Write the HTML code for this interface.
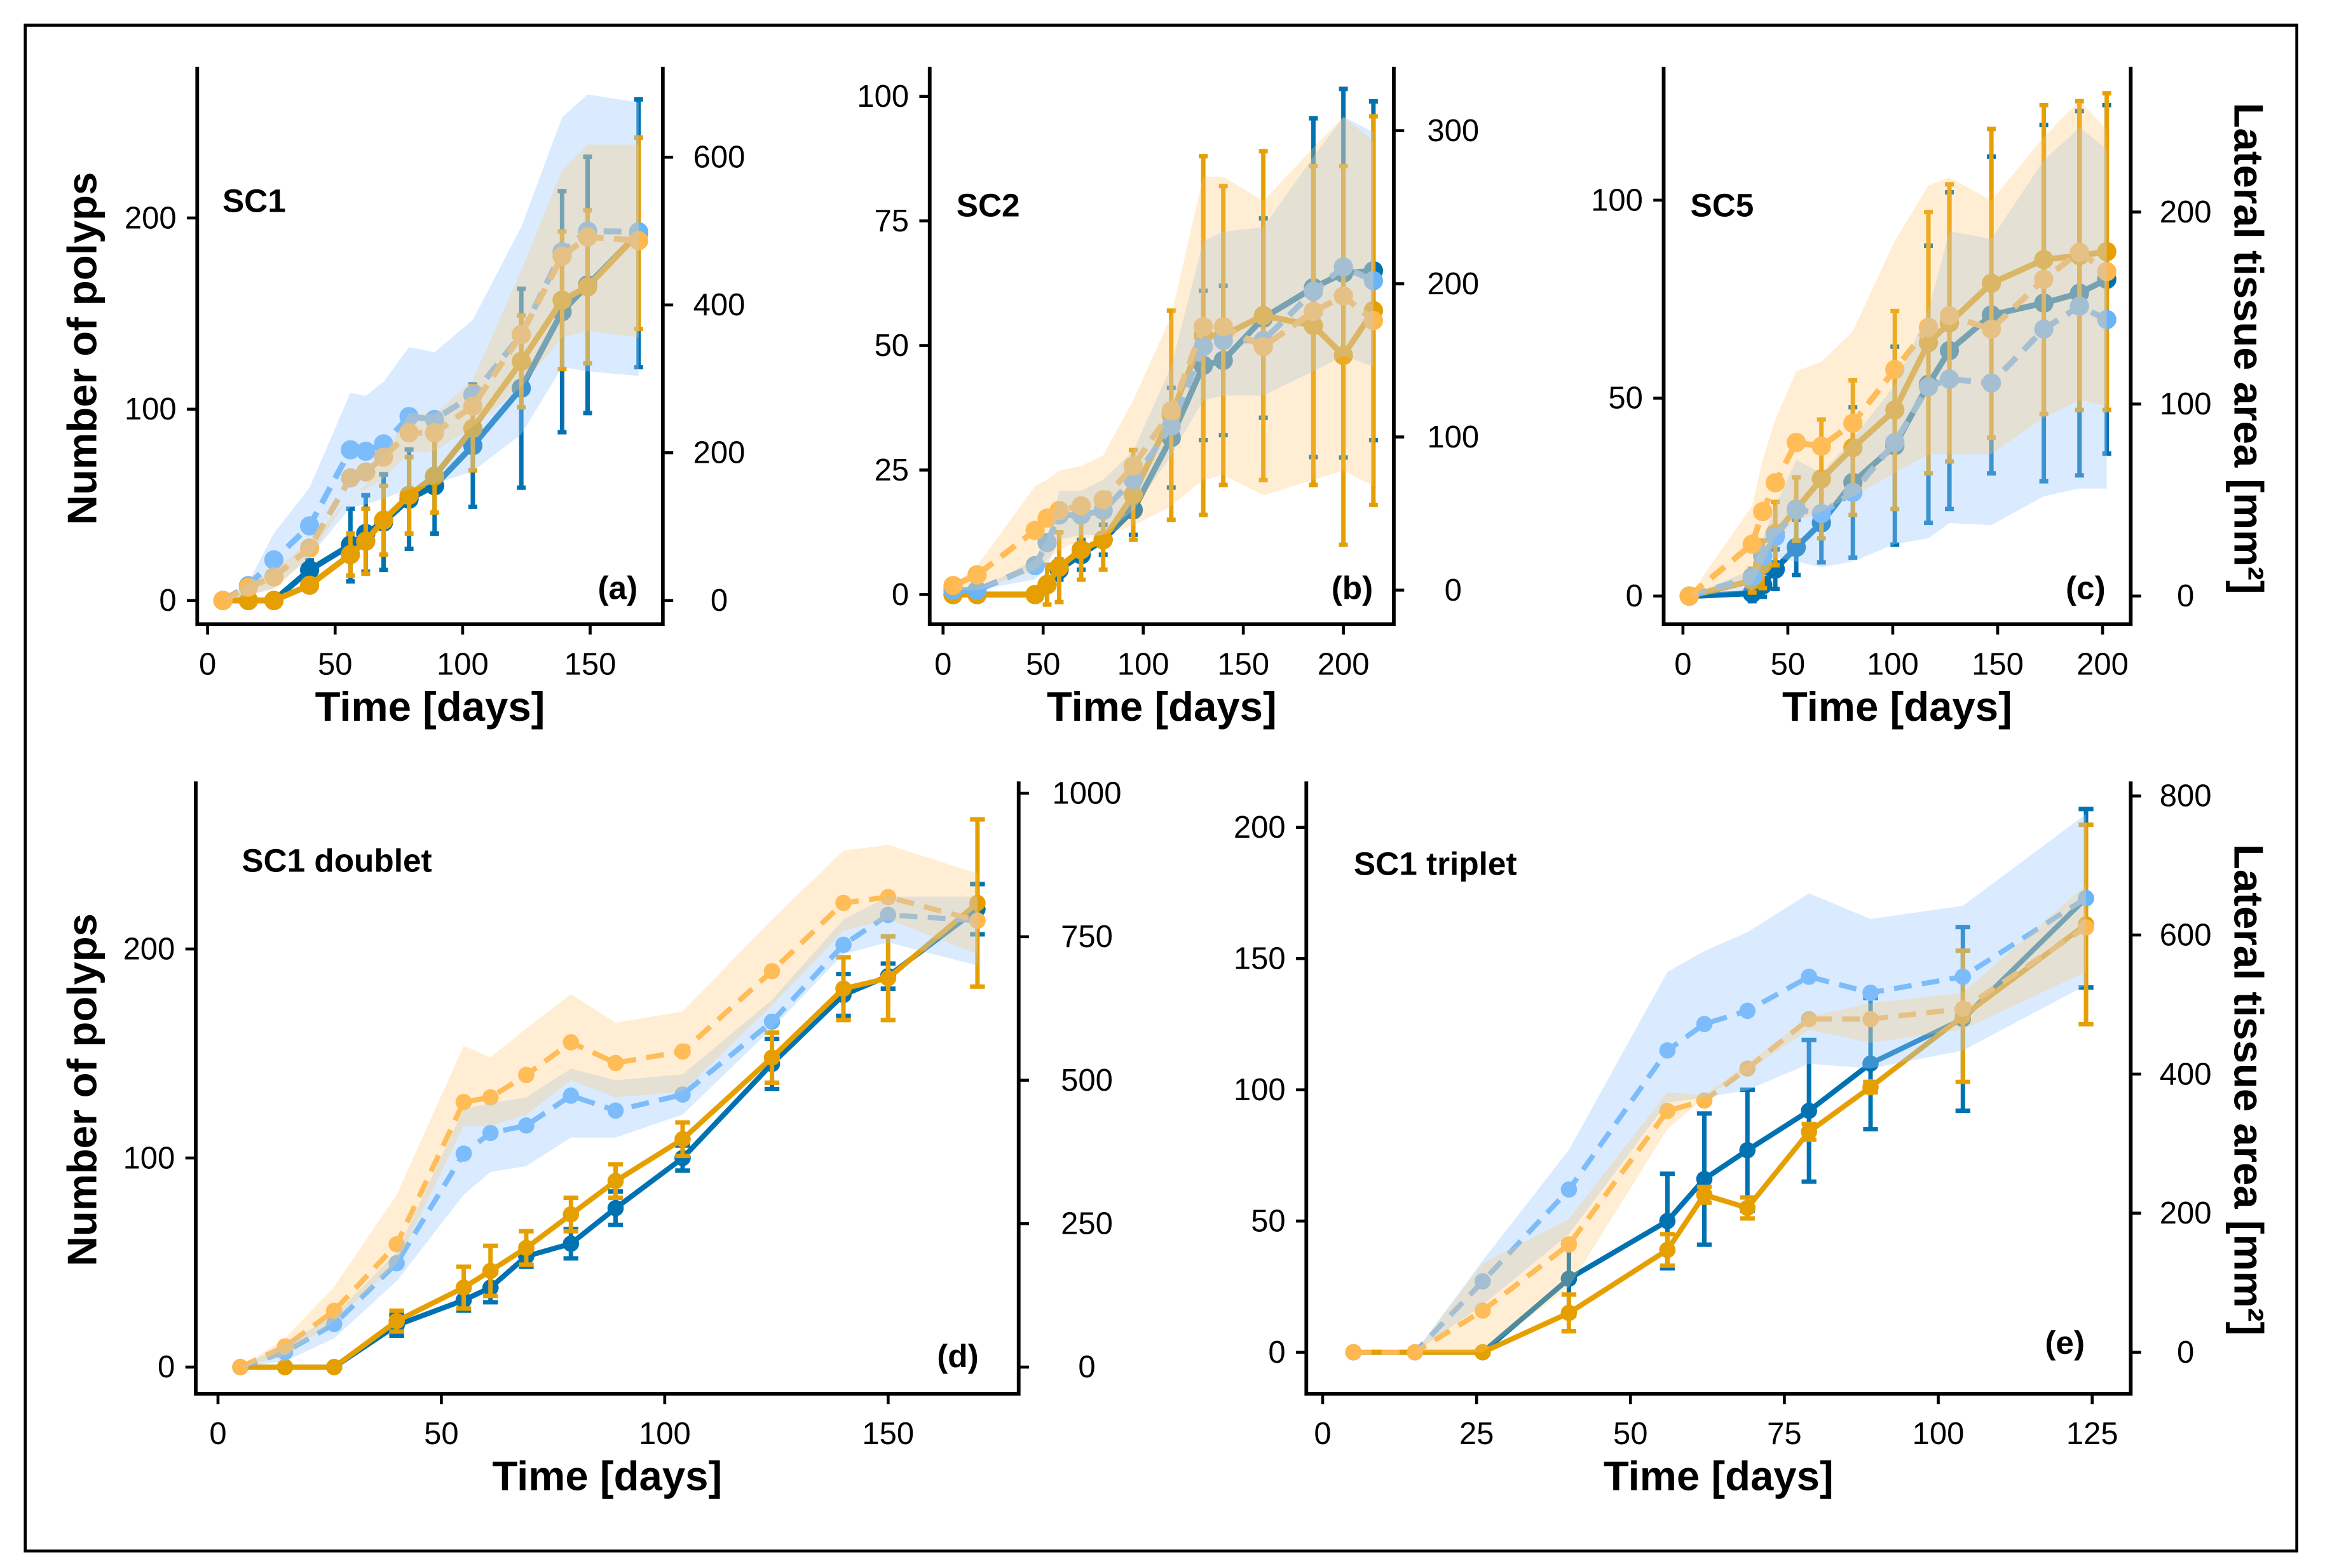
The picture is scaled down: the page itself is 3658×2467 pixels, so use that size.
<!DOCTYPE html>
<html><head><meta charset="utf-8"><style>
html,body{margin:0;padding:0;background:#fff}
svg{display:block}
text{font-family:"Liberation Sans",Arial,sans-serif}
</style></head><body>
<svg id="fig" xmlns="http://www.w3.org/2000/svg" width="3658" height="2467" viewBox="0 0 1568 1057.5">
<rect x="17" y="17" width="1532" height="1029" fill="none" stroke="#000" stroke-width="2"/>
<text transform="translate(65,235) rotate(-90)" text-anchor="middle" font-size="28" font-weight="bold">Number of polyps</text>
<text transform="translate(65,735) rotate(-90)" text-anchor="middle" font-size="28" font-weight="bold">Number of polyps</text>
<text transform="translate(1507,235) rotate(90)" text-anchor="middle" font-size="28" font-weight="bold">Lateral tissue area [mm²]</text>
<text transform="translate(1507,735) rotate(90)" text-anchor="middle" font-size="28" font-weight="bold">Lateral tissue area [mm²]</text>
</svg>
<script>
// ---- Panel (a) SC1 ----
const aDays=[6,16,26,40,56,62,69,79,89,104,123,139,149,169];
const aBlue=[0,0,0,16,29,35,41,53,60,81,111,151,165,192];
const aBlueErr=[0,0,0,5,19,20,25,26,25,32,52,63,67,70];
const aOrange=[0,0,0,8,24,31,42,55,65,90,125,157,164,192];
const aOrangeErr=[0,0,0,0,11,17,18,20,19,22,24,36,40,50];
const aBlueArea=[0,20,55,101,204,202,212,249,245,278,360,472,500,499];
const aOrangeArea=[0,18,32,71,166,174,194,227,227,263,360,466,492,487];
const aBlueHi=[0,25,91,153,281,277,296,343,336,380,506,654,685,674];
const aBlueLo=[0,7,17,59,126,130,138,151,158,175,225,316,310,304];
const aOrangeHi=[0,22,40,81,141,156,195,254,252,299,447,583,617,617];
const aOrangeLo=[0,7,15,59,143,151,165,200,202,235,289,356,365,356];
const aXTicks=[0,50,100,150], aYTicks=[0,100,200], aRTicks=[0,200,400,600];
// ---- Panel (b) SC2 ----
const bDays=[5,17,46,52,58,69,80,95,114,130,140,160,185,200,215];
const bBlue=[0,0,0,2,5,8,11,17,31.5,46,47,55.5,61.6,64.5,65];
const bBlueErr=[0,0,0,1,2,3,3,5,10,15,15,20,34,37,34];
const bOrange=[0,0,0,2,5.5,9,11,20,36,52,52,56,54,48,57];
const bOrangeErr=[0,0,0,4,7,6,6,9,21,36,30,33,32,38,39];
const bBlueArea=[0,0,16,31,49,49,52,72,107,159,163,163,195,211,202];
const bOrangeArea=[3,10,39,47,52,55,59,81,117,172,172,159,182,192,176];
const bBlueHi=[0,0,20,33,65,65,72,91,146,228,234,237,283,309,299];
const bBlueLo=[0,0,7,16,33,36,36,52,88,124,127,127,143,153,146];
const bOrangeHi=[3,16,68,72,78,81,88,124,179,270,270,254,289,309,293];
const bOrangeLo=[0,0,13,20,26,33,36,42,55,72,75,62,72,78,68];
const bXTicks=[0,50,100,150,200], bYTicks=[0,25,50,75,100], bRTicks=[0,100,200,300];
// ---- Panel (c) SC5 ----
const cDays=[3,33,38,44,54,66,81,101,117,127,147,172,189,202];
const cBlue=[0,0.7,2.8,6.8,12.3,18.5,28.7,38,53.5,62,71,74,76.5,80];
const cBlueErr=[0,2,3,5,7,10,19,25,35,40,40,45,46,44];
const cOrange=[0,3.9,8,15.8,22,29.6,37.5,47,64,69,79,85,86,87];
const cOrangeErr=[0,3,6,8,8,15,17,25,33,35,39,39,39,40];
const cBlueArea=[0,10,21,31,45,43,54,80,109,113,111,139,151,144];
const cOrangeArea=[0,27,44,59,80,78,90,118,140,146,139,165,179,169];
const cBlueHi=[0,14,30,47,71,64,82,110,149,190,186,227,244,233];
const cBlueLo=[0,3,8,20,18,15,18,27,30,38,37,52,56,56];
const cOrangeHi=[0,47,71,92,117,122,138,185,214,218,206,239,258,243];
const cOrangeLo=[0,6,17,31,39,44,52,64,74,74,74,93,102,99];
const cXTicks=[0,50,100,150,200], cYTicks=[0,50,100], cRTicks=[0,100,200];
// ---- Panel (d) SC1 doublet ----
const dDays=[5,15,26,40,55,61,69,79,89,104,124,140,150,170];
const dBlue=[0,0,0,20,32,38,53,59,76,100,145,178,187,219];
const dBlueErr=[0,0,0,5,5,7,5,7,8,6,12,10,6,12];
const dOrange=[0,0,0,22,38,46,57,73,89,109,148,181,186,222];
const dOrangeErr=[0,0,0,5,10,12,8,8,8,8,12,15,20,40];
const dBlueArea=[0,26,75,181,372,408,421,473,447,475,602,736,788,778];
const dOrangeArea=[0,36,98,214,462,470,509,566,530,550,690,809,819,778];
const dBlueHi=[0,40,90,200,450,460,470,520,500,510,640,780,820,820];
const dBlueLo=[0,10,50,150,300,340,350,400,400,440,590,720,740,700];
const dOrangeHi=[0,50,140,300,560,540,590,650,600,620,780,900,910,860];
const dOrangeLo=[0,20,80,180,420,420,440,500,470,480,630,760,780,720];
const dXTicks=[0,50,100,150], dYTicks=[0,100,200], dRTicks=[0,250,500,750,1000];
// ---- Panel (e) SC1 triplet ----
const eDays=[5,15,26,40,56,62,69,79,89,104,124];
const eBlue=[0,0,0,28,50,66,77,92,110,127,173];
const eBlueErr=[0,0,0,14,18,25,23,27,25,35,34];
const eOrange=[0,0,0,15,39,60,55,84,101,128,163];
const eOrangeErr=[0,0,0,7,6,3,4,3,2,25,38];
const eBlueArea=[0,0,102,234,434,472,491,540,517,540,653];
const eOrangeArea=[0,0,60,155,347,362,408,479,479,494,611];
const eBlueHi=[0,0,132,291,547,577,604,660,623,642,774];
const eBlueLo=[0,0,68,170,359,366,377,415,408,434,528];
const eOrangeHi=[0,0,128,192,374,370,415,483,502,517,672];
const eOrangeLo=[0,0,0,94,321,366,404,464,445,464,547];
const eXTicks=[0,25,50,75,100,125], eYTicks=[0,50,100,150,200], eRTicks=[0,200,400,600,800];

const NS="http://www.w3.org/2000/svg";
const svg=document.getElementById('fig');
function mk(tag,attrs,parent){const e=document.createElementNS(NS,tag);for(const k in attrs)e.setAttribute(k,attrs[k]);(parent||svg).appendChild(e);return e;}

const C_BLUE="#0072B2",C_OR="#E69F00",C_LB="#6AB4F8",C_LO="#FFB84D";

function panel(id,g,days,blue,blueErr,orange,orangeErr,bArea,oArea,bHi,bLo,oHi,oLo,xt,yt,rt,title,letter){
  const grp=mk('g',{});
  
  
  const X=d=>g.x0+d*g.xs, YL=v=>g.yl0-v*g.yls, YR=v=>g.yr0-v*g.yrs;
  function series(name,vals,ymap,color,dashed){
    const pts=days.map((d,i)=>X(d).toFixed(1)+','+ymap(vals[i]).toFixed(1)).join(' ');
    const pl=mk('polyline',{points:pts,fill:'none',stroke:color,'stroke-width':g.lw,'stroke-dasharray':dashed?'12 7':'none','stroke-linejoin':'round'},grp);
    
    
    days.forEach((d,i)=>{
      const c=mk('circle',{cx:X(d),cy:ymap(vals[i]),r:g.mr,fill:color},grp);
      
      
    });
  }
  function errs(name,vals,err,color){
    days.forEach((d,i)=>{
      if(!err[i])return;
      const x=X(d),y1=YL(vals[i]-err[i]),y2=YL(vals[i]+err[i]);
      const l=mk('path',{d:`M${x},${y1}V${y2}M${x-g.cap},${y1}H${x+g.cap}M${x-g.cap},${y2}H${x+g.cap}`,stroke:color,'stroke-width':g.ew,fill:'none'},grp);
      
      
    });
  }
  series('blue-polyps',blue,YL,C_BLUE,false);
  errs('blue-polyps',blue,blueErr,C_BLUE);
  series('orange-polyps',orange,YL,C_OR,false);
  errs('orange-polyps',orange,orangeErr,C_OR);
  series('blue-area',bArea,YR,C_LB,true);
  series('orange-area',oArea,YR,C_LO,true);
  function band(name,hi,lo,color,op){
    const up=days.map((d,i)=>X(d).toFixed(1)+','+YR(hi[i]).toFixed(1));
    const dn=days.map((d,i)=>X(d).toFixed(1)+','+YR(lo[i]).toFixed(1)).reverse();
    const p=mk('polygon',{points:up.concat(dn).join(' '),fill:color,'fill-opacity':op},grp);
    
    
  }
  band('blue-area-band',bHi,bLo,'#9DCBFF',0.38);
  band('orange-area-band',oHi,oLo,'#FFC870',0.3);
  const ax=mk('path',{d:`M${g.L},${g.T}V${g.B}H${g.R}V${g.T}`,stroke:'#000','stroke-width':2.5,fill:'none'},grp);
  
  
  xt.forEach(v=>{
    const x=X(v);
    const t=mk('line',{x1:x,x2:x,y1:g.B,y2:g.B+7,stroke:'#000','stroke-width':2},grp);
    
    
    const tx=mk('text',{x:x,y:g.B+34,'text-anchor':'middle','font-size':21},grp);
    
    
    tx.textContent=v;
  });
  yt.forEach(v=>{
    const y=YL(v);
    const t=mk('line',{x1:g.L-7,x2:g.L,y1:y,y2:y,stroke:'#000','stroke-width':2},grp);
    
    
    const tx=mk('text',{x:g.L-14,y:y+7,'text-anchor':'end','font-size':21},grp);
    
    
    tx.textContent=v;
  });
  rt.forEach(v=>{
    const y=YR(v);
    const t=mk('line',{x1:g.R,x2:g.R+7,y1:y,y2:y,stroke:'#000','stroke-width':2},grp);
    
    
    const tx=mk('text',{x:g.R+g.rl,y:y+7,'text-anchor':'middle','font-size':21},grp);
    
    
    tx.textContent=v;
  });
  const xl=mk('text',{x:(g.L+g.R)/2,y:g.B+65,'text-anchor':'middle','font-size':28,'font-weight':'bold'},grp);
  
  
  xl.textContent='Time [days]';
  const tt=mk('text',{x:g.tx,y:g.ty,'font-size':22,'font-weight':'bold'},grp);
  
  
  tt.textContent=title;
  const lt=mk('text',{x:g.lx,y:g.ly,'text-anchor':'end','font-size':22,'font-weight':'bold'},grp);
  
  
  lt.textContent=letter;
}

const TOP={lw:4,mr:6.5,ew:3,cap:3};
const BOT={lw:3.5,mr:5.5,ew:3,cap:5};
panel('a',Object.assign({L:133,R:447,T:45,B:421,x0:140,xs:1.72,yl0:405,yls:1.29,yr0:405,yrs:0.4983,rl:38,tx:150,ty:143,lx:430,ly:404},TOP),
  aDays,aBlue,aBlueErr,aOrange,aOrangeErr,aBlueArea,aOrangeArea,aBlueHi,aBlueLo,aOrangeHi,aOrangeLo,aXTicks,aYTicks,aRTicks,'SC1','(a)');
panel('b',Object.assign({L:627,R:940,T:45,B:421,x0:636,xs:1.35,yl0:401,yls:3.36,yr0:398,yrs:1.033,rl:40,tx:645,ty:146,lx:926,ly:404},TOP),
  bDays,bBlue,bBlueErr,bOrange,bOrangeErr,bBlueArea,bOrangeArea,bBlueHi,bBlueLo,bOrangeHi,bOrangeLo,bXTicks,bYTicks,bRTicks,'SC2','(b)');
panel('c',Object.assign({L:1122,R:1437,T:45,B:421,x0:1135,xs:1.415,yl0:402,yls:2.67,yr0:402,yrs:1.295,rl:37,tx:1140,ty:146,lx:1420,ly:404},TOP),
  cDays,cBlue,cBlueErr,cOrange,cOrangeErr,cBlueArea,cOrangeArea,cBlueHi,cBlueLo,cOrangeHi,cOrangeLo,cXTicks,cYTicks,cRTicks,'SC5','(c)');
panel('d',Object.assign({L:132,R:687,T:527,B:940,x0:147,xs:3.013,yl0:922,yls:1.41,yr0:922,yrs:0.387,rl:46,tx:163,ty:588,lx:660,ly:922},BOT),
  dDays,dBlue,dBlueErr,dOrange,dOrangeErr,dBlueArea,dOrangeArea,dBlueHi,dBlueLo,dOrangeHi,dOrangeLo,dXTicks,dYTicks,dRTicks,'SC1 doublet','(d)');
panel('e',Object.assign({L:881,R:1437,T:527,B:940,x0:892,xs:4.152,yl0:912,yls:1.77,yr0:912,yrs:0.469,rl:37,tx:913,ty:590,lx:1406,ly:913},BOT),
  eDays,eBlue,eBlueErr,eOrange,eOrangeErr,eBlueArea,eOrangeArea,eBlueHi,eBlueLo,eOrangeHi,eOrangeLo,eXTicks,eYTicks,eRTicks,'SC1 triplet','(e)');
</script>
</body></html>
